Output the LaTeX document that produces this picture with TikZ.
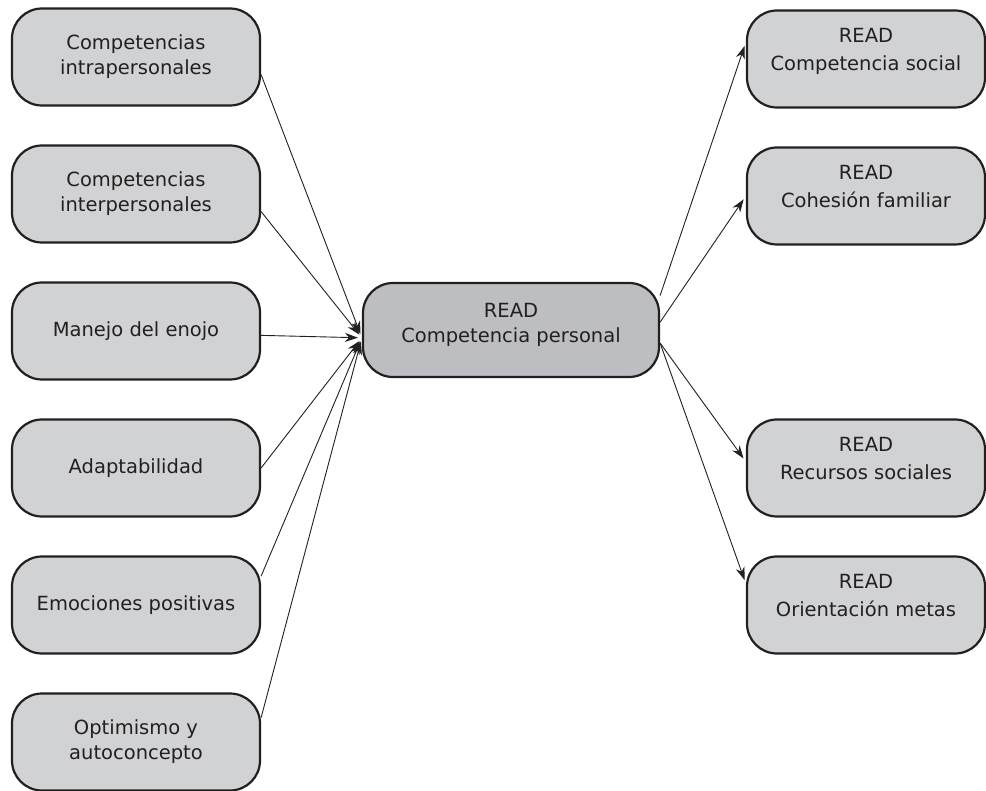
\documentclass[tikz,border=0pt]{standalone}
\usepackage{fontspec}
\setmainfont{DejaVu Sans}
\usetikzlibrary{arrows.meta,positioning}
\definecolor{boxgray}{RGB}{209,210,212}
\definecolor{hubgray}{RGB}{189,190,193}
\definecolor{inkdark}{RGB}{35,31,32}

\begin{document}
\begin{tikzpicture}[x=1pt,y=-1pt,>={Stealth[length=13pt,width=9pt]},->,shorten >=4pt,
every node/.style={font=\fontsize{19.5}{25}\selectfont, text=inkdark, align=center},
lbox/.style={draw=inkdark, line width=2.2pt, rounded corners=30pt, fill=boxgray,
  minimum width=248pt, minimum height=97pt},
rbox/.style={lbox, minimum width=238pt, text depth=20pt,
  font=\fontsize{19.5}{28}\selectfont},
hub/.style={lbox, fill=hubgray, minimum width=296pt, minimum height=94pt, text depth=15pt},
node distance=37.8pt]
\useasboundingbox (0,0) rectangle (986,791);

% factores (izquierda)
\node (intra) at (136,57) [lbox] {Competencias\\intrapersonales};
\node (inter) [lbox, below=of intra] {Competencias\\interpersonales};
\node (enojo) [lbox, below=of inter] {Manejo del enojo};
\node (adapt) [lbox, below=of enojo] {Adaptabilidad};
\node (emoc) [lbox, below=of adapt] {Emociones positivas};
\node (optim) [lbox, below=of emoc] {Optimismo y\\autoconcepto};

\node (pers) at (511,330) [hub] {READ\\Competencia personal};

% resultados (derecha)
\node (soc) at (866,59) [rbox] {READ\\Competencia social};
\node (fam) [rbox, below=of soc] {READ\\Cohesión familiar};
\node (rec) at (866,468) [rbox] {READ\\Recursos sociales};
\node (met) [rbox, below=of rec] {READ\\Orientación metas};

\begin{scope}[line width=0.9pt, draw=inkdark]
\draw (intra.-8)--(pers.183);
\draw (inter.-8)--(pers.183);
\draw (enojo.-2)--(pers.183);
\draw (adapt.east)--(pers.183);
\draw (emoc.13)--(pers.183);
\draw (optim.11)--(pers.183);
\draw (pers.13)--(soc.172);
\draw (pers.3)--(fam.west);
\draw (pers.-5)--(rec.177);
\draw (pers.-5)--(met.170);
\end{scope}
\end{tikzpicture}
\end{document}
